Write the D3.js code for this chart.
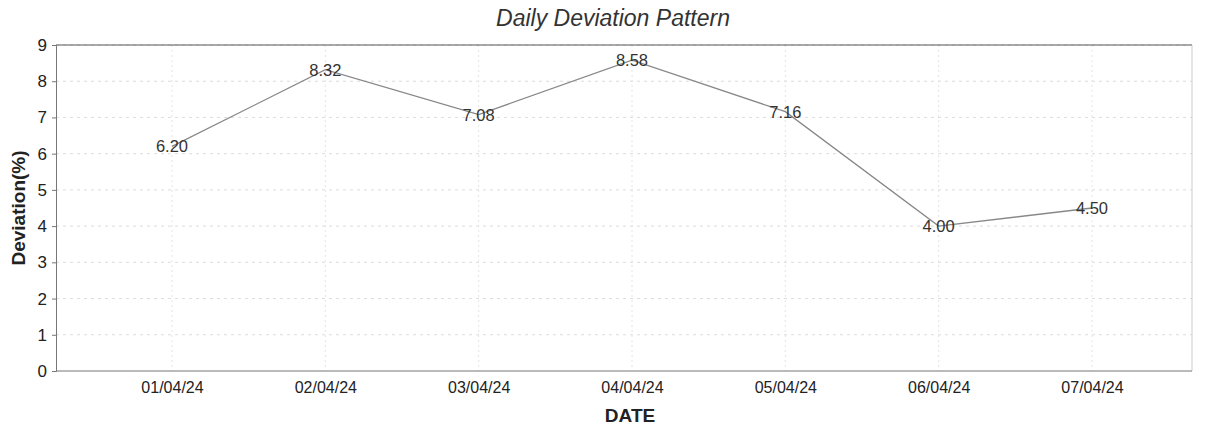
<!DOCTYPE html>
<html><head><meta charset="utf-8">
<script src="https://cdn.jsdelivr.net/npm/d3@7"></script>
<style>body{margin:0;background:#fff}svg{display:block}text{font-family:"Liberation Sans",Arial,sans-serif}</style>
</head><body><svg id="c" width="1208" height="427"></svg>
<script>
const dates = ["01/04/24","02/04/24","03/04/24","04/04/24","05/04/24","06/04/24","07/04/24"];
const deviation = [6.20, 8.32, 7.08, 8.58, 7.16, 4.00, 4.50];
const yTicks = [0,1,2,3,4,5,6,7,8,9];

(function(){
const svg = d3.select("#c");
const pL = 56, pR = 1192, pT = 45, pB = 371;
const x = d3.scalePoint().domain(dates).range([172, 1092]);
const y = d3.scaleLinear().domain([0, 9]).range([pB, pT]);

// grid
svg.append("g").selectAll("line").data(yTicks.slice(1)).join("line")
  .attr("x1", pL).attr("x2", pR).attr("y1", d=>y(d)).attr("y2", d=>y(d))
  .attr("stroke", "#dcdcdc").attr("stroke-dasharray", "3,4").attr("stroke-width", 1);
svg.append("g").selectAll("line").data(dates).join("line")
  .attr("x1", d=>x(d)).attr("x2", d=>x(d)).attr("y1", pT).attr("y2", pB)
  .attr("stroke", "#e4e4e4").attr("stroke-dasharray", "2,3").attr("stroke-width", 1);

// frame
svg.append("line").attr("x1", pL).attr("x2", pR).attr("y1", pT).attr("y2", pT).attr("stroke", "#555");
svg.append("line").attr("x1", pR).attr("x2", pR).attr("y1", pT).attr("y2", pB).attr("stroke", "#ccc");

// axes
const yAxis = svg.append("g").attr("transform", `translate(${pL},0)`)
  .call(d3.axisLeft(y).tickValues(yTicks).tickSize(4).tickPadding(5));
const xAxis = svg.append("g").attr("transform", `translate(0,${pB})`)
  .call(d3.axisBottom(x).tickSize(0).tickPadding(11));
xAxis.select(".domain").attr("d", `M${pL},0H${pR}`);
[yAxis, xAxis].forEach(g => {
  g.select(".domain").attr("stroke", "#777");
  g.selectAll(".tick line").attr("stroke", "#777");
  g.selectAll(".tick text").attr("fill", "#222").attr("font-family", "Liberation Sans, Arial, sans-serif");
});
yAxis.selectAll(".tick text").attr("font-size", 17);
xAxis.selectAll(".tick text").attr("font-size", 16);

// line
svg.append("path").datum(deviation)
  .attr("d", d3.line().x((d,i)=>x(dates[i])).y(d=>y(d)))
  .attr("fill", "none").attr("stroke", "#888").attr("stroke-width", 1.3);

// labels
svg.append("g").selectAll("text").data(deviation).join("text")
  .attr("x", (d,i)=>x(dates[i])).attr("y", d=>y(d)+6)
  .attr("text-anchor", "middle").attr("font-size", 16.5).attr("fill", "#333")
  .text(d=>d.toFixed(2));

// titles
svg.append("text").attr("x", 613).attr("y", 26).attr("text-anchor", "middle")
  .attr("font-size", 23).attr("font-style", "italic").attr("fill", "#333").text("Daily Deviation Pattern");
svg.append("text").attr("transform", "translate(25,208) rotate(-90)").attr("text-anchor", "middle")
  .attr("font-size", 19).attr("font-weight", "bold").attr("fill", "#222").text("Deviation(%)");
svg.append("text").attr("x", 630).attr("y", 422).attr("text-anchor", "middle")
  .attr("font-size", 19).attr("font-weight", "bold").attr("fill", "#222").text("DATE");
})();
</script></body></html>
